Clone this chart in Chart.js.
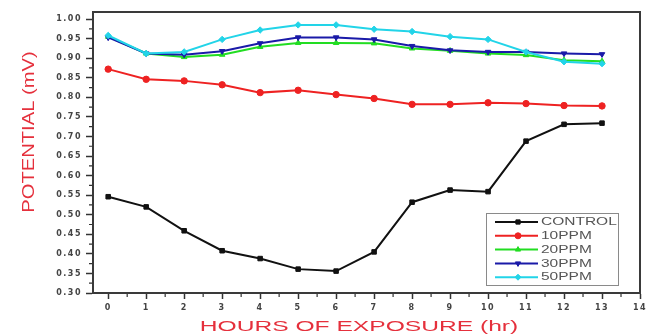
<!DOCTYPE html>
<html>
<head>
<meta charset="utf-8">
<script src="https://cdn.jsdelivr.net/npm/chart.js@4.4.1/dist/chart.umd.min.js"></script>
<style>
  html, body { margin: 0; padding: 0; background: #fff; }
  #wrap { width: 650px; height: 335px; position: relative; }
</style>
</head>
<body>
<div id="wrap"><canvas id="c"></canvas></div>
<script>
// Hours of exposure
const hours = [0, 1, 2, 3, 4, 5, 6, 7, 8, 9, 10, 11, 12, 13];

// Series names
const seriesNames = ['CONTROL', '10PPM', '20PPM', '30PPM', '50PPM'];

// Potential (mV) for each series
const control = [0.546, 0.520, 0.459, 0.408, 0.388, 0.361, 0.356, 0.405, 0.532, 0.563, 0.559, 0.688, 0.731, 0.734];
const ppm10   = [0.872, 0.846, 0.842, 0.832, 0.812, 0.818, 0.807, 0.797, 0.782, 0.782, 0.786, 0.784, 0.779, 0.778];
const ppm20   = [0.955, 0.912, 0.903, 0.909, 0.929, 0.939, 0.939, 0.938, 0.925, 0.919, 0.912, 0.908, 0.895, 0.892];
const ppm30   = [0.953, 0.912, 0.909, 0.918, 0.938, 0.953, 0.953, 0.948, 0.931, 0.920, 0.916, 0.916, 0.912, 0.910];
const ppm50   = [0.958, 0.912, 0.916, 0.948, 0.972, 0.985, 0.985, 0.974, 0.968, 0.955, 0.948, 0.916, 0.891, 0.886];

// Axis tick settings
const xTickStep = 1;
const yTickStep = 0.05;

// Axis titles
const xTitle = 'HOURS OF EXPOSURE (hr)';
const yTitle = 'POTENTIAL (mV)';

const seriesValues = [control, ppm10, ppm20, ppm30, ppm50];
const seriesColors = ['#111111', '#ee2222', '#22dd22', '#1a1aa8', '#22d4e8'];
const seriesMarkers = [
  { style: 'rect', rotation: 0 },
  { style: 'circle', rotation: 0 },
  { style: 'triangle', rotation: 0 },
  { style: 'triangle', rotation: 180 },
  { style: 'rectRot', rotation: 0 }
];

const datasets = seriesNames.map((name, i) => ({
  label: name,
  data: hours.map((h, j) => ({ x: h, y: seriesValues[i][j] })),
  borderColor: seriesColors[i],
  backgroundColor: seriesColors[i],
  borderWidth: 2,
  pointStyle: seriesMarkers[i].style,
  rotation: seriesMarkers[i].rotation,
  pointRadius: 3.2,
  pointBorderWidth: 1,
  tension: 0,
  order: seriesNames.length - i
}));

// Draw text horizontally stretched around its anchor
function wideText(ctx, text, x, y, sx, align) {
  ctx.save();
  ctx.translate(x, y);
  ctx.scale(sx, 1);
  ctx.textAlign = align;
  ctx.fillText(text, 0, 0);
  ctx.restore();
}

const framePlugin = {
  id: 'frame',
  beforeDraw(chart) {
    chart.ctx.letterSpacing = '1.5px';
  },
  beforeDatasetsDraw(chart) {
    const ctx = chart.ctx;
    ctx.letterSpacing = '0px';
    const { left, right, top, bottom } = chart.chartArea;
    const xs = chart.scales.x, ys = chart.scales.y;
    ctx.save();
    ctx.strokeStyle = '#333';
    ctx.lineWidth = 1.2;
    ctx.beginPath();
    // minor ticks halfway between labelled ticks
    const yt = ys.ticks.map(t => t.value);
    for (let i = 0; i < yt.length - 1; i++) {
      const p = ys.getPixelForValue((yt[i] + yt[i + 1]) / 2);
      ctx.moveTo(left - 4, p); ctx.lineTo(left, p);
    }
    const xt = xs.ticks.map(t => t.value);
    for (let i = 0; i < xt.length - 1; i++) {
      const p = xs.getPixelForValue((xt[i] + xt[i + 1]) / 2);
      ctx.moveTo(p, bottom); ctx.lineTo(p, bottom + 4);
    }
    ctx.stroke();
    ctx.restore();
  },
  afterDatasetsDraw(chart) {
    const ctx = chart.ctx;
    const { left, right, top, bottom } = chart.chartArea;
    ctx.save();
    ctx.strokeStyle = '#3a3a3a';
    ctx.lineWidth = 2;
    ctx.strokeRect(left, top, right - left, bottom - top);
    ctx.restore();
  },
  afterDraw(chart) {
    const ctx = chart.ctx;
    ctx.save();
    ctx.letterSpacing = '0px';
    // axis titles
    ctx.fillStyle = '#e5303c';
    ctx.font = '15px "Liberation Sans", Arial, sans-serif';
    ctx.textBaseline = 'middle';
    const { left, right, bottom } = chart.chartArea;
    wideText(ctx, xTitle, 359, 327, 1.64, 'center');
    ctx.save();
    ctx.translate(30, 132);
    ctx.rotate(-Math.PI / 2);
    ctx.font = '16px "Liberation Sans", Arial, sans-serif';
    wideText(ctx, yTitle, 0, 0, 1.26, 'center');
    ctx.restore();

    // legend box
    const bx = 486, by = 213, bw = 132, bh = 72;
    ctx.fillStyle = '#fff';
    ctx.fillRect(bx, by, bw, bh);
    ctx.strokeStyle = '#8a8a8a';
    ctx.lineWidth = 1;
    ctx.strokeRect(bx + 0.5, by + 0.5, bw, bh);
    ctx.font = '10px "Liberation Sans", Arial, sans-serif';
    chart.data.datasets.forEach((ds, i) => {
      const ry = by + 9 + i * 13.8;
      ctx.strokeStyle = ds.borderColor;
      ctx.fillStyle = ds.backgroundColor;
      ctx.lineWidth = 2;
      ctx.beginPath();
      ctx.moveTo(bx + 9, ry); ctx.lineTo(bx + 52, ry);
      ctx.stroke();
      ctx.lineWidth = 1;
      Chart.helpers.drawPoint(ctx, { pointStyle: ds.pointStyle, rotation: ds.rotation, radius: 3, borderWidth: 1 }, bx + 32, ry);
      ctx.fillStyle = '#555';
      ctx.textBaseline = 'middle';
      wideText(ctx, ds.label, bx + 55, ry + 0.5, 1.55, 'left');
    });
    ctx.restore();
  }
};

const tickFont = { family: '"DejaVu Sans", sans-serif', size: 8, weight: 'bold' };

new Chart(document.getElementById('c'), {
  type: 'line',
  data: { datasets },
  options: {
    responsive: true,
    maintainAspectRatio: false,
    animation: false,
    events: [],
    layout: { padding: { top: 12, right: 10, left: 0, bottom: 0 } },
    plugins: { legend: { display: false }, tooltip: { enabled: false } },
    scales: {
      x: {
        type: 'linear',
        min: -0.4,
        max: 14,
        afterFit(scale) { scale.height = 42; },
        ticks: {
          stepSize: xTickStep,
          includeBounds: false,
          autoSkip: false,
          maxRotation: 0,
          color: '#444',
          font: tickFont,
          padding: 4,
          callback: v => String(v)
        },
        grid: { drawOnChartArea: false, drawTicks: true, tickLength: 6, tickColor: '#333', tickWidth: 1.5 },
        border: { display: true, color: '#333', width: 2 }
      },
      y: {
        type: 'linear',
        min: 0.30,
        max: 1.018,
        afterFit(scale) { scale.width = 93; },
        ticks: {
          stepSize: yTickStep,
          includeBounds: false,
          autoSkip: false,
          color: '#444',
          font: tickFont,
          padding: 4,
          callback: v => Number(v).toFixed(2)
        },
        grid: { drawOnChartArea: false, drawTicks: true, tickLength: 7, tickColor: '#333', tickWidth: 1.5 },
        border: { display: true, color: '#333', width: 2 }
      }
    }
  },
  plugins: [framePlugin]
});
</script>
</body>
</html>
